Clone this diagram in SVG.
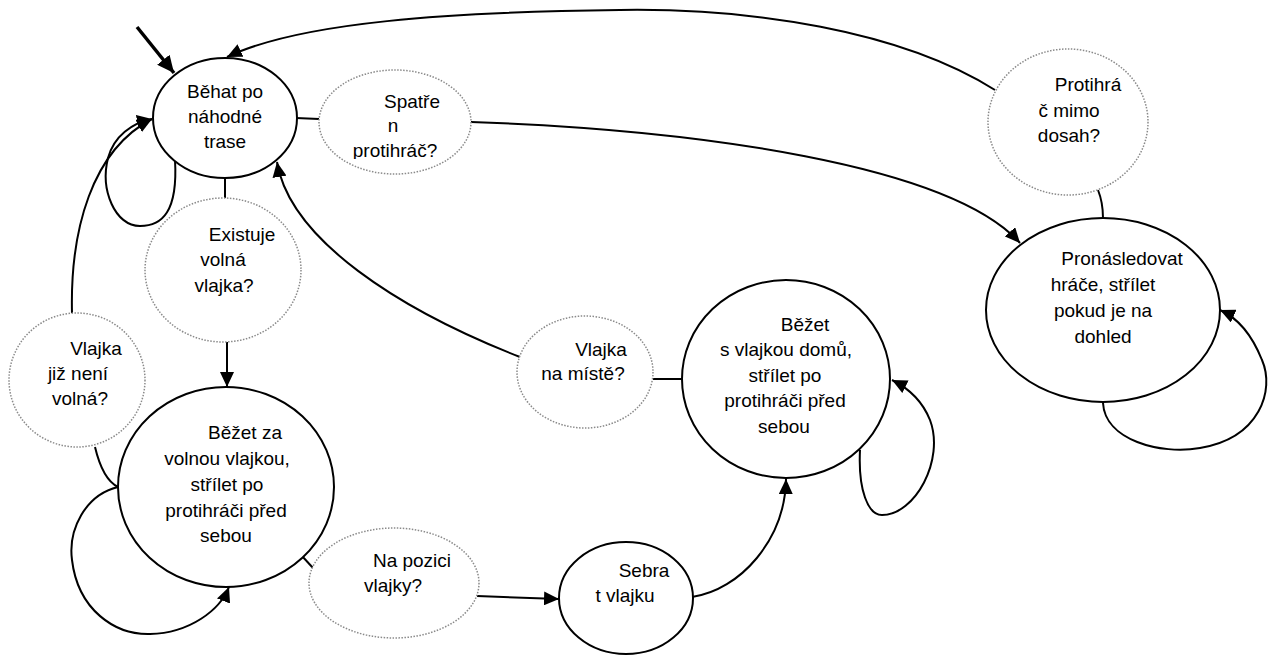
<svg xmlns="http://www.w3.org/2000/svg" width="1277" height="657" viewBox="0 0 1277 657">
<style>
.state{fill:#fff;stroke:#000;stroke-width:2}
.cond{fill:#fff;stroke:#8a8a8a;stroke-width:1.5;stroke-dasharray:1.5 1.5}
text{font-family:"Liberation Sans",Arial,sans-serif;font-size:19px;fill:#000;text-anchor:middle}
.edge{fill:none;stroke:#000;stroke-width:2}
.arr{marker-end:url(#ah)}
</style>
<defs>
<marker id="ah" markerUnits="userSpaceOnUse" markerWidth="16" markerHeight="14" refX="15" refY="7" orient="auto">
<path d="M0,0 L15,7 L0,14 z" fill="#000"/>
</marker>
<marker id="ahStart" markerUnits="userSpaceOnUse" markerWidth="18" markerHeight="16" refX="17" refY="8" orient="auto">
<path d="M0,0 L17,8 L0,16 z" fill="#000"/>
</marker>
<clipPath id="clipSpatren"><rect x="300" y="60" width="200" height="99"/></clipPath>
</defs>

<g id="connectors">
<line class="edge" x1="137" y1="27" x2="174" y2="73" style="stroke-width:3.5" marker-end="url(#ahStart)"/>
<path class="edge arr" d="M995,90 C900,30 750,8 620,10 C450,12 300,22 227,57"/>
<line class="edge" x1="296" y1="118" x2="319" y2="119"/>
<path class="edge arr" d="M471,122 C700,130 950,165 1020,243"/>
<path class="edge" d="M1098,190 C1102,200 1103,210 1103,218"/>
<path class="edge arr" d="M1103,403 C1105,440 1160,455 1200,448 C1260,438 1275,390 1262,360 C1252,335 1238,318 1220,310"/>
<line class="edge" x1="225" y1="178" x2="225" y2="198"/>
<line class="edge arr" x1="227" y1="342" x2="227" y2="387"/>
<path class="edge arr" d="M175,160 C178,212 162,226 140,226 C115,226 100,190 108,158 C114,136 132,123 152,119"/>
<path class="edge arr" d="M72,313 C70,230 92,150 152,119"/>
<path class="edge" d="M95,447 C100,468 108,482 118,487"/>
<path class="edge arr" d="M118,487 C85,495 68,530 72,560 C78,610 115,635 150,634 C190,633 220,610 229,587"/>
<line class="edge" x1="302" y1="556" x2="313" y2="568"/>
<line class="edge arr" x1="477" y1="596" x2="559" y2="599"/>
<path class="edge arr" d="M692,597 C740,590 785,540 786,479"/>
<line class="edge" x1="653" y1="379" x2="682" y2="379"/>
<path class="edge arr" d="M520,357 C400,310 290,240 277,162"/>
<path class="edge arr" d="M860,450 C858,490 868,515 882,515 C915,515 945,460 930,420 C922,400 908,388 892,380"/>
</g>

<g id="n-behat">
<ellipse class="state" cx="225" cy="118" rx="72" ry="60"/>
<text x="225" y="98">Běhat po</text>
<text x="225" y="123">náhodné</text>
<text x="225" y="148">trase</text>
</g>

<g id="c-spatren">
<ellipse class="cond" cx="395" cy="122" rx="76" ry="52"/>
<g clip-path="url(#clipSpatren)">
<text x="412" y="108">Spatře</text>
<text x="393" y="132">n</text>
<text x="395" y="157">protihráč?</text>
</g>
</g>

<g id="c-existuje">
<ellipse class="cond" cx="223" cy="270" rx="78" ry="72"/>
<text x="242" y="241">Existuje</text>
<text x="223" y="266">volná</text>
<text x="224" y="292">vlajka?</text>
</g>

<g id="c-vlajka-neni">
<ellipse class="cond" cx="77" cy="380" rx="68" ry="67"/>
<text x="96" y="355">Vlajka</text>
<text x="78" y="380">již není</text>
<text x="80" y="405">volná?</text>
</g>

<g id="n-bezet-za">
<ellipse class="state" cx="226" cy="487" rx="108" ry="100"/>
<text x="245" y="439">Běžet za</text>
<text x="227" y="465">volnou vlajkou,</text>
<text x="227" y="491">střílet po</text>
<text x="226" y="517">protihráči před</text>
<text x="226" y="542">sebou</text>
</g>

<g id="c-na-pozici">
<ellipse class="cond" cx="394" cy="583" rx="85" ry="55"/>
<text x="412" y="567">Na pozici</text>
<text x="393" y="592">vlajky?</text>
</g>

<g id="n-sebrat">
<ellipse class="state" cx="626" cy="598" rx="67" ry="56"/>
<text x="644" y="577">Sebra</text>
<text x="625" y="602">t vlajku</text>
</g>

<g id="c-na-miste">
<ellipse class="cond" cx="585" cy="372" rx="68" ry="56"/>
<text x="601" y="356">Vlajka</text>
<text x="583" y="380">na místě?</text>
</g>

<g id="n-bezet-s">
<ellipse class="state" cx="786" cy="379" rx="104" ry="99"/>
<text x="805" y="331">Běžet</text>
<text x="786" y="356">s vlajkou domů,</text>
<text x="785" y="382">střílet po</text>
<text x="785" y="407">protihráči před</text>
<text x="784" y="433">sebou</text>
</g>

<g id="n-pronasledovat">
<ellipse class="state" cx="1103" cy="310" rx="117" ry="92"/>
<text x="1122" y="265">Pronásledovat</text>
<text x="1103" y="291">hráče, střílet</text>
<text x="1103" y="317">pokud je na</text>
<text x="1103" y="343">dohled</text>
</g>

<g id="c-mimo-dosah">
<ellipse class="cond" cx="1068" cy="122" rx="80" ry="73"/>
<text x="1088" y="91">Protihrá</text>
<text x="1069" y="117">č mimo</text>
<text x="1069" y="142">dosah?</text>
</g>
</svg>
